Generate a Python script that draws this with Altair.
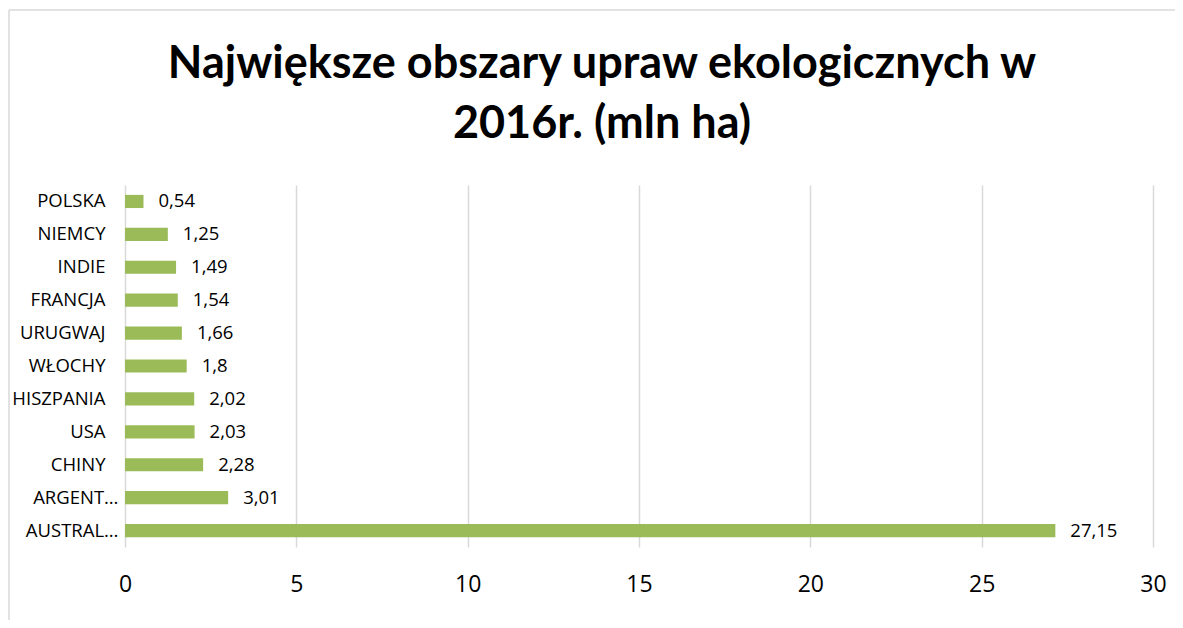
import altair as alt
import pandas as pd

countries = ["POLSKA", "NIEMCY", "INDIE", "FRANCJA", "URUGWAJ", "WŁOCHY",
             "HISZPANIA", "USA", "CHINY", "ARGENT…", "AUSTRAL…"]
values = [0.54, 1.25, 1.49, 1.54, 1.66, 1.8, 2.02, 2.03, 2.28, 3.01, 27.15]
labels = [str(v).replace(".", ",") for v in values]
x_ticks = [0, 5, 10, 15, 20, 25, 30]

df = pd.DataFrame({"country": countries, "value": values, "label": labels})

FONT = "Open Sans"
TFONT = "Lato"

base = alt.Chart(df)

y_enc = alt.Y(
    "country:N",
    sort=countries,
    scale=alt.Scale(paddingInner=0.6, paddingOuter=0.3),
    axis=alt.Axis(title=None, domain=False, ticks=False, labelFontSize=18.5,
                  labelPadding={"condition": {"test": "indexof(datum.value, '…') >= 0",
                                              "value": 7},
                                "value": 20},
                  labelLimit=300, labelFont=FONT,
                  labelColor="#000000"),
)

bars = base.mark_bar(color="#9BBB59").encode(
    x=alt.X(
        "value:Q",
        scale=alt.Scale(domain=[0, 30]),
        axis=alt.Axis(values=x_ticks, grid=True, gridColor="#d9d9d9",
                      gridWidth=1.5, domain=False, ticks=False,
                      labelFontSize=23, labelPadding=26, labelFont=FONT,
                      labelFlush=False,
                      labelColor="#000000", title=None),
    ),
    y=y_enc,
)

texts = base.mark_text(align="left", dx=15, fontSize=18.5, font=FONT,
                       color="#000000").encode(
    x="value:Q",
    y=alt.Y("country:N", sort=countries),
    text="label:N",
)

frame_df = pd.DataFrame({"a": [0]})
left_border = alt.Chart(frame_df).mark_rule(color="#d9d9d9", strokeWidth=1.5).encode(
    x=alt.value(-116), y=alt.value(-175), y2=alt.value(435)
)
top_border = alt.Chart(frame_df).mark_rule(color="#d9d9d9", strokeWidth=1.5).encode(
    x=alt.value(-116), x2=alt.value(1050), y=alt.value(-175)
)

chart = alt.layer(left_border, top_border, bars, texts).properties(
    width=1028,
    height=362,
    autosize=alt.AutoSizeParams(type="none"),
    padding={"left": 117, "top": 177, "right": 22, "bottom": 73},
    background="white",
    title=alt.Title(
        ["Największe obszary upraw ekologicznych w", "2016r. (mln ha)"],
        fontSize=45, font=TFONT, fontWeight="bold", color="#000000",
        anchor="middle", dx=-37, offset=-174, lineHeight=60,
        baseline="alphabetic",
    ),
).configure_view(stroke=None)

chart.save("out.html", embed_options={"renderer": "svg", "actions": False})
